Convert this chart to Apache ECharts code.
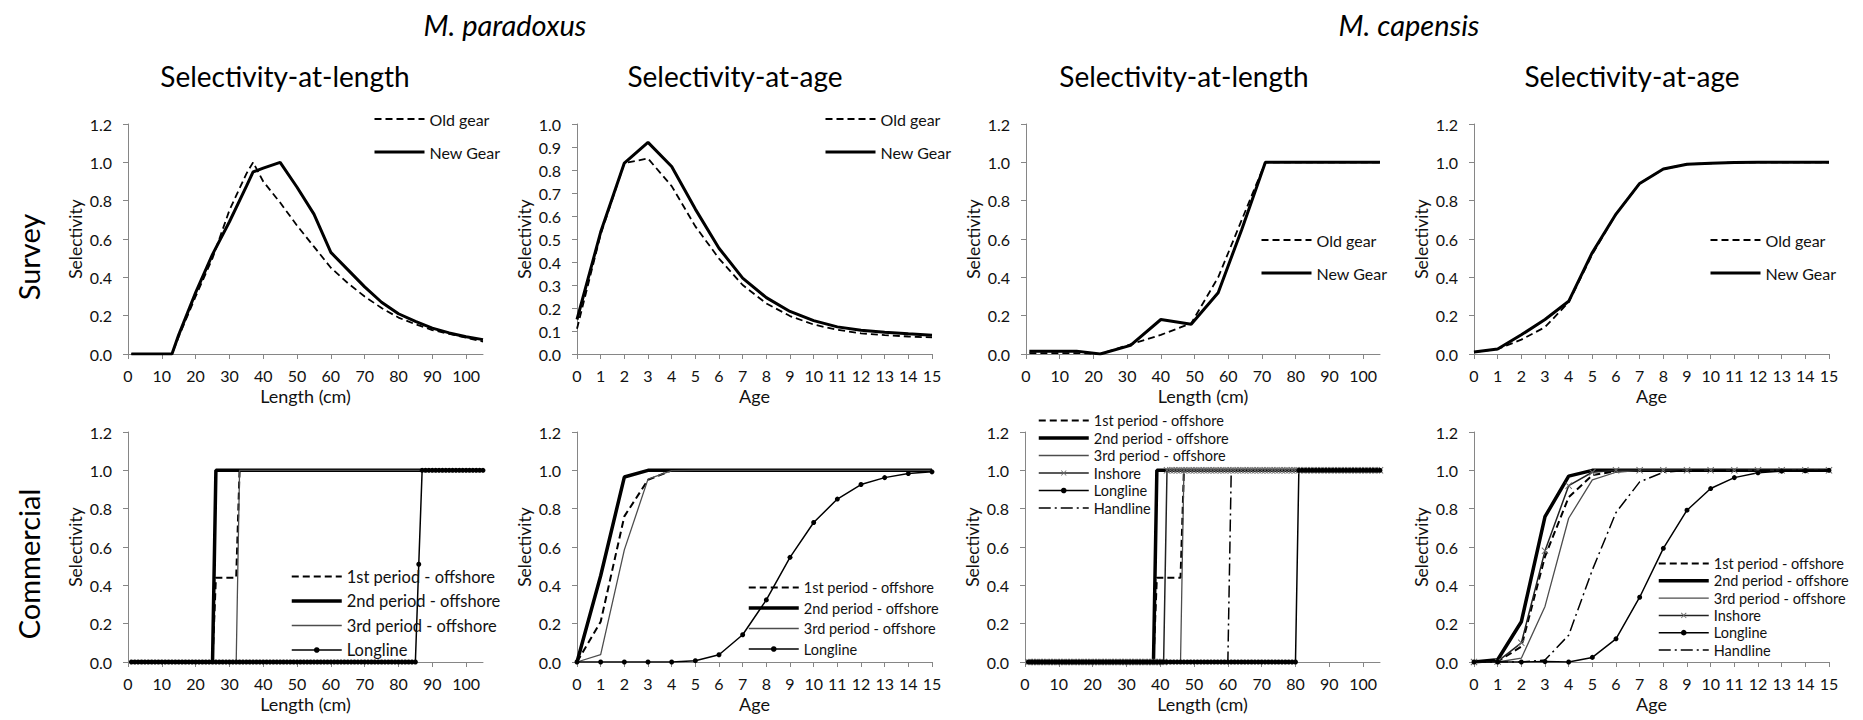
<!DOCTYPE html>
<html>
<head>
<meta charset="utf-8">
<script src="https://cdn.jsdelivr.net/npm/echarts@6.0.0/dist/echarts.min.js"></script>
<style>
  html, body { margin: 0; padding: 0; background: #fff; }
  #selectivity { width: 1863px; height: 720px; }
</style>
</head>
<body>
<div id="selectivity"></div>
<script>
// Selectivity curves, M. paradoxus / M. capensis, survey and commercial fleets

const lengthTicks = [0, 10, 20, 30, 40, 50, 60, 70, 80, 90, 100];
const ages = [0, 1, 2, 3, 4, 5, 6, 7, 8, 9, 10, 11, 12, 13, 14, 15];
const lengthClasses = [
    1, 2, 3, 4, 5, 6, 7, 8, 9, 10, 11, 12, 13, 14, 15, 16, 17, 18, 19, 20,
    21, 22, 23, 24, 25, 26, 27, 28, 29, 30, 31, 32, 33, 34, 35, 36, 37, 38, 39, 40,
    41, 42, 43, 44, 45, 46, 47, 48, 49, 50, 51, 52, 53, 54, 55, 56, 57, 58, 59, 60,
    61, 62, 63, 64, 65, 66, 67, 68, 69, 70, 71, 72, 73, 74, 75, 76, 77, 78, 79, 80,
    81, 82, 83, 84, 85, 86, 87, 88, 89, 90, 91, 92, 93, 94, 95, 96, 97, 98, 99, 100,
    101, 102, 103, 104, 105
];

// --- survey, selectivity-at-length: [length, selectivity]
const parSurveyLenOld = [[1, 0], [13, 0], [15, 0.09], [20, 0.3], [25, 0.5], [30, 0.75], [35, 0.94], [37, 1.0],
    [40, 0.9], [45, 0.79], [50, 0.67], [55, 0.56], [60, 0.45], [65, 0.37], [70, 0.3], [75, 0.24],
    [80, 0.19], [85, 0.155], [90, 0.125], [95, 0.105], [100, 0.085], [105, 0.065]];
const parSurveyLenNew = [[1, 0], [13, 0], [15, 0.1], [20, 0.32], [25, 0.52], [30, 0.69], [35, 0.875], [37, 0.95],
    [40, 0.97], [45, 1.0], [50, 0.87], [55, 0.73], [60, 0.53], [65, 0.44], [70, 0.35], [75, 0.27],
    [80, 0.21], [85, 0.17], [90, 0.135], [95, 0.11], [100, 0.09], [105, 0.075]];
const capSurveyLenOld = [[1, 0.005], [15, 0.005], [22, 0], [31, 0.05], [40, 0.1], [49, 0.16], [57, 0.4], [64, 0.7], [71, 1.0], [105, 1.0]];
const capSurveyLenNew = [[1, 0.015], [15, 0.015], [22, 0], [31, 0.045], [40, 0.18], [49, 0.155], [57, 0.32], [64, 0.65], [71, 1.0], [105, 1.0]];

// --- survey, selectivity-at-age (ages 0..15)
const parSurveyAgeOld = [0.11, 0.52, 0.83, 0.85, 0.73, 0.555, 0.415, 0.3, 0.22, 0.165, 0.128, 0.105, 0.09, 0.082, 0.076, 0.072];
const parSurveyAgeNew = [0.15, 0.53, 0.83, 0.92, 0.815, 0.63, 0.46, 0.33, 0.245, 0.185, 0.145, 0.118, 0.103, 0.095, 0.088, 0.082];
const capSurveyAgeOld = [0.01, 0.026, 0.075, 0.14, 0.27, 0.52, 0.73, 0.89, 0.965, 0.99, 0.995, 0.999, 1, 1, 1, 1];
const capSurveyAgeNew = [0.01, 0.026, 0.1, 0.18, 0.275, 0.53, 0.73, 0.89, 0.965, 0.99, 0.995, 0.999, 1, 1, 1, 1];

// --- commercial, selectivity-at-length
const parCommLen1st = [[1, 0], [25, 0], [26, 0.44], [32, 0.44], [33, 1], [105, 1]];
const parCommLen2nd = [[1, 0], [25, 0], [26, 1], [105, 1]];
const parCommLen3rd = [[1, 0], [32, 0], [33, 1], [105, 1]];
const parCommLenLongline = [
    0, 0, 0, 0, 0, 0, 0, 0, 0, 0, 0, 0, 0, 0, 0, 0, 0, 0, 0, 0,
    0, 0, 0, 0, 0, 0, 0, 0, 0, 0, 0, 0, 0, 0, 0, 0, 0, 0, 0, 0,
    0, 0, 0, 0, 0, 0, 0, 0, 0, 0, 0, 0, 0, 0, 0, 0, 0, 0, 0, 0,
    0, 0, 0, 0, 0, 0, 0, 0, 0, 0, 0, 0, 0, 0, 0, 0, 0, 0, 0, 0,
    0, 0, 0, 0, 0, 0.51, 1, 1, 1, 1, 1, 1, 1, 1, 1, 1, 1, 1, 1, 1,
    1, 1, 1, 1, 1
];
const capCommLen1st = [[1, 0], [38, 0], [39, 0.44], [46, 0.44], [47, 1], [105, 1]];
const capCommLen2nd = [[1, 0], [38, 0], [39, 1], [105, 1]];
const capCommLen3rd = [[1, 0], [46, 0], [47, 1], [105, 1]];
const capCommLenInshore = [
    0, 0, 0, 0, 0, 0, 0, 0, 0, 0, 0, 0, 0, 0, 0, 0, 0, 0, 0, 0,
    0, 0, 0, 0, 0, 0, 0, 0, 0, 0, 0, 0, 0, 0, 0, 0, 0, 0, 0, 0,
    0, 1, 1, 1, 1, 1, 1, 1, 1, 1, 1, 1, 1, 1, 1, 1, 1, 1, 1, 1,
    1, 1, 1, 1, 1, 1, 1, 1, 1, 1, 1, 1, 1, 1, 1, 1, 1, 1, 1, 1,
    1, 1, 1, 1, 1, 1, 1, 1, 1, 1, 1, 1, 1, 1, 1, 1, 1, 1, 1, 1,
    1, 1, 1, 1, 1
];
const capCommLenLongline = [
    0, 0, 0, 0, 0, 0, 0, 0, 0, 0, 0, 0, 0, 0, 0, 0, 0, 0, 0, 0,
    0, 0, 0, 0, 0, 0, 0, 0, 0, 0, 0, 0, 0, 0, 0, 0, 0, 0, 0, 0,
    0, 0, 0, 0, 0, 0, 0, 0, 0, 0, 0, 0, 0, 0, 0, 0, 0, 0, 0, 0,
    0, 0, 0, 0, 0, 0, 0, 0, 0, 0, 0, 0, 0, 0, 0, 0, 0, 0, 0, 0,
    1, 1, 1, 1, 1, 1, 1, 1, 1, 1, 1, 1, 1, 1, 1, 1, 1, 1, 1, 1,
    1, 1, 1, 1, 1
];
const capCommLenHandline = [[1, 0], [60, 0], [61, 1], [105, 1]];

// --- commercial, selectivity-at-age (ages 0..15)
const parCommAge1st = [0, 0.21, 0.76, 0.95, 1, 1, 1, 1, 1, 1, 1, 1, 1, 1, 1, 1];
const parCommAge2nd = [0, 0.45, 0.965, 1, 1, 1, 1, 1, 1, 1, 1, 1, 1, 1, 1, 1];
const parCommAge3rd = [0, 0.038, 0.585, 0.954, 0.998, 1, 1, 1, 1, 1, 1, 1, 1, 1, 1, 1];
const parCommAgeLongline = [0, 0, 0, 0, 0, 0.007, 0.038, 0.142, 0.324, 0.546, 0.728, 0.85, 0.926, 0.962, 0.983, 0.992];
const capCommAge1st = [0, 0.003, 0.08, 0.55, 0.86, 0.975, 0.995, 1, 1, 1, 1, 1, 1, 1, 1, 1];
const capCommAge2nd = [0, 0.012, 0.21, 0.758, 0.97, 1, 1, 1, 1, 1, 1, 1, 1, 1, 1, 1];
const capCommAge3rd = [0, 0, 0.02, 0.29, 0.75, 0.95, 0.99, 1, 1, 1, 1, 1, 1, 1, 1, 1];
const capCommAgeInshore = [0, 0.003, 0.1, 0.58, 0.92, 0.99, 1, 1, 1, 1, 1, 1, 1, 1, 1, 1];
const capCommAgeLongline = [0, 0, 0, 0.002, 0, 0.024, 0.121, 0.338, 0.593, 0.792, 0.905, 0.962, 0.987, 0.996, 0.998, 1];
const capCommAgeHandline = [0, 0, 0, 0.01, 0.14, 0.48, 0.78, 0.94, 0.99, 1, 1, 1, 1, 1, 1, 1];

const FONT = 'Lato, "Liberation Sans", sans-serif';
const TEXT = '#111';
const AXIS = '#868686';

// small "x" marker for the inshore fleet
const xMark = 'path://M0,1L1,0L5,4L9,0L10,1L6,5L10,9L9,10L5,6L1,10L0,9L4,5Z';

const lineStyles = {
    'Old gear': { symbol: 'none', lineStyle: { color: '#000', width: 1.8, type: [7, 4] } },
    'New Gear': { symbol: 'none', lineStyle: { color: '#000', width: 3 } },
    '1st period - offshore': { symbol: 'none', lineStyle: { color: '#000', width: 2, type: [7, 4] } },
    '2nd period - offshore': { symbol: 'none', lineStyle: { color: '#000', width: 3.5 } },
    '3rd period - offshore': { symbol: 'none', lineStyle: { color: '#4d4d4d', width: 1.3 } },
    'Inshore': { symbol: xMark, symbolSize: 7, itemStyle: { color: '#6a6a6a' }, lineStyle: { color: '#222', width: 1.5 } },
    'Longline': { symbol: 'circle', symbolSize: 5, itemStyle: { color: '#000' }, lineStyle: { color: '#000', width: 1.5 } },
    'Handline': { symbol: 'none', lineStyle: { color: '#000', width: 1.5, type: [12, 4, 2, 4] } },
};

const withAges = arr => arr.map((v, i) => [ages[i], v]);
const withLengths = arr => arr.map((v, i) => [lengthClasses[i], v]);

const makeLine = (name, data, idx) => Object.assign({
    type: 'line',
    name: name,
    data: data,
    xAxisIndex: idx,
    yAxisIndex: idx,
    color: '#000',
    silent: true,
    animation: false,
}, lineStyles[name]);

// grids: top row = survey, bottom row = commercial
const grids = [
    { left: 128, right: 1380, top: 124, bottom: 366 },
    { left: 577, right: 931, top: 124, bottom: 366 },
    { left: 1026, right: 483, top: 124, bottom: 366 },
    { left: 1474, right: 34, top: 124, bottom: 366 },
    { left: 128, right: 1380, top: 432, bottom: 58 },
    { left: 577, right: 931, top: 432, bottom: 58 },
    { left: 1025, right: 483, top: 432, bottom: 58 },
    { left: 1474, right: 34, top: 432, bottom: 58 },
].map(g => Object.assign({ outerBoundsMode: 'none' }, g));

const isLength = [true, false, true, false, true, false, true, false];

const xAxes = isLength.map((len, i) => {
    const ax = {
        type: 'value',
        gridIndex: i,
        min: 0,
        max: len ? 105 : 15,
        name: len ? 'Length (cm)' : 'Age',
        nameLocation: 'middle',
        nameGap: 33,
        nameTextStyle: { fontFamily: FONT, fontSize: 18, color: TEXT },
        axisLine: { onZero: false, lineStyle: { color: AXIS, width: 1 } },
        axisTick: { show: true, length: 5, lineStyle: { color: AXIS } },
        axisLabel: { margin: 13, fontFamily: FONT, fontSize: 16, color: TEXT },
        splitLine: { show: false },
    };
    if (len) {
        ax.axisLabel.customValues = lengthTicks;
        ax.axisTick.customValues = lengthTicks;
    } else {
        ax.interval = 1;
    }
    return ax;
});

const yAxes = isLength.map((len, i) => ({
    type: 'value',
    gridIndex: i,
    min: 0,
    max: i === 1 ? 1.0 : 1.2,
    interval: i === 1 ? 0.1 : 0.2,
    name: 'Selectivity',
    nameLocation: 'middle',
    nameGap: 44,
    nameTextStyle: { fontFamily: FONT, fontSize: 17.5, color: TEXT },
    axisLine: { show: true, lineStyle: { color: AXIS, width: 1 } },
    axisTick: { show: true, length: 5, lineStyle: { color: AXIS } },
    axisLabel: { margin: 16, fontFamily: FONT, fontSize: 16, color: TEXT, formatter: v => v.toFixed(1) },
    splitLine: { show: false },
}));

const series = [
    makeLine('Old gear', parSurveyLenOld, 0),
    makeLine('New Gear', parSurveyLenNew, 0),
    makeLine('Old gear', withAges(parSurveyAgeOld), 1),
    makeLine('New Gear', withAges(parSurveyAgeNew), 1),
    makeLine('Old gear', capSurveyLenOld, 2),
    makeLine('New Gear', capSurveyLenNew, 2),
    makeLine('Old gear', withAges(capSurveyAgeOld), 3),
    makeLine('New Gear', withAges(capSurveyAgeNew), 3),

    makeLine('1st period - offshore', parCommLen1st, 4),
    makeLine('2nd period - offshore', parCommLen2nd, 4),
    makeLine('3rd period - offshore', parCommLen3rd, 4),
    makeLine('Longline', withLengths(parCommLenLongline), 4),

    makeLine('1st period - offshore', withAges(parCommAge1st), 5),
    makeLine('2nd period - offshore', withAges(parCommAge2nd), 5),
    makeLine('3rd period - offshore', withAges(parCommAge3rd), 5),
    makeLine('Longline', withAges(parCommAgeLongline), 5),

    makeLine('1st period - offshore', capCommLen1st, 6),
    makeLine('2nd period - offshore', capCommLen2nd, 6),
    makeLine('3rd period - offshore', capCommLen3rd, 6),
    makeLine('Inshore', withLengths(capCommLenInshore), 6),
    makeLine('Longline', withLengths(capCommLenLongline), 6),
    makeLine('Handline', capCommLenHandline, 6),

    makeLine('1st period - offshore', withAges(capCommAge1st), 7),
    makeLine('2nd period - offshore', withAges(capCommAge2nd), 7),
    makeLine('3rd period - offshore', withAges(capCommAge3rd), 7),
    makeLine('Inshore', withAges(capCommAgeInshore), 7),
    makeLine('Longline', withAges(capCommAgeLongline), 7),
    makeLine('Handline', withAges(capCommAgeHandline), 7),
];

// legend entries: hide the symbol for series drawn without markers
const legendItem = name => (lineStyles[name].symbol === 'none'
    ? { name: name, itemStyle: { opacity: 0 } }
    : { name: name });

const makeLegend = (names, left, top, fontSize, gap) => ({
    orient: 'vertical',
    left: left,
    top: top,
    padding: 0,
    itemWidth: 50,
    itemHeight: 7,
    itemGap: gap,
    selectedMode: false,
    // keep each series' own line width and dash in its legend icon
    lineStyle: { width: 'inherit', type: 'inherit', color: 'inherit' },
    textStyle: { fontFamily: FONT, fontSize: fontSize, color: TEXT },
    data: names.map(legendItem),
});

const gearNames = ['Old gear', 'New Gear'];
const paradoxusFleets = ['1st period - offshore', '2nd period - offshore', '3rd period - offshore', 'Longline'];
const capensisFleets = ['1st period - offshore', '2nd period - offshore', '3rd period - offshore', 'Inshore', 'Longline', 'Handline'];

const legends = [
    makeLegend(gearNames, 373, 111, 16, 17),
    makeLegend(gearNames, 824, 111, 16, 17),
    makeLegend(gearNames, 1260, 232, 16, 17),
    makeLegend(gearNames, 1709, 232, 16, 17),
    makeLegend(paradoxusFleets, 290, 568, 16.5, 7.5),
    makeLegend(paradoxusFleets, 747, 580, 14.5, 5.5),
    makeLegend(capensisFleets, 1037, 413, 14.5, 2.5),
    makeLegend(capensisFleets, 1657, 556, 14.5, 2.3),
];

const headText = (text, x, y, size, italic) => ({
    type: 'text',
    x: x,
    y: y,
    silent: true,
    style: {
        text: text,
        fontFamily: FONT,
        fontSize: size,
        fontStyle: italic ? 'italic' : 'normal',
        fill: '#000',
        textAlign: 'center',
        textVerticalAlign: 'middle',
    },
});

const rowLabel = (text, x, y) => Object.assign(headText(text, x, y, 29, false), { rotation: Math.PI / 2 });

const selectivityOption = {
    backgroundColor: '#fff',
    animation: false,
    grid: grids,
    xAxis: xAxes,
    yAxis: yAxes,
    legend: legends,
    series: series,
    graphic: [
        headText('M. paradoxus', 505, 24, 29, true),
        headText('M. capensis', 1409, 24, 29, true),
        headText('Selectivity-at-length', 285, 76, 28, false),
        headText('Selectivity-at-age', 735, 76, 28, false),
        headText('Selectivity-at-length', 1184, 76, 28, false),
        headText('Selectivity-at-age', 1632, 76, 28, false),
        rowLabel('Survey', 28, 257),
        rowLabel('Commercial', 28, 564),
    ],
};

const selectivityChart = echarts.init(document.getElementById('selectivity'), null, { renderer: 'svg' });
selectivityChart.setOption(selectivityOption);
</script>
</body>
</html>
